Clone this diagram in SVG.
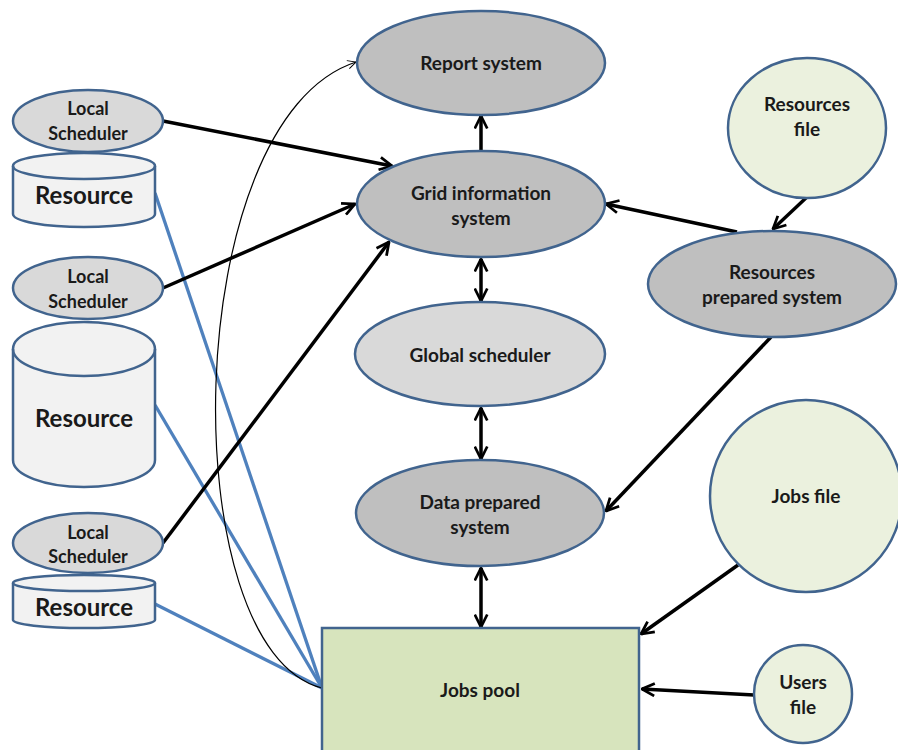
<svg xmlns="http://www.w3.org/2000/svg" width="898" height="750" viewBox="0 0 898 750">
<style>
text{font-family:Lato,"Open Sans","Liberation Sans",sans-serif;font-weight:bold;fill:#1a1a1a;text-anchor:middle}
.n{stroke:#41648e;stroke-width:2.5}
.g{fill:#bfbfbf}
.lg{fill:#d9d9d9}
.cy{fill:#f2f2f2}
.f{fill:#ebf1de}
.t{font-size:19px}
.s{font-size:18px}
.r{font-size:24px}
.a{stroke:#000;stroke-width:3.5;fill:none}
.b{stroke:#4f81bd;stroke-width:3.3;fill:none}
</style>
<defs>
<marker id="ah" viewBox="0 0 12 12" refX="11" refY="6" markerWidth="15" markerHeight="15" markerUnits="userSpaceOnUse" orient="auto-start-reverse">
<path d="M1,1 L11,6 L1,11" fill="none" stroke="#000" stroke-width="2.2"/>
</marker>
<marker id="ahs" viewBox="0 0 12 12" refX="11" refY="6" markerWidth="10" markerHeight="10" markerUnits="userSpaceOnUse" orient="auto">
<path d="M1,1 L11,6 L1,11" fill="none" stroke="#000" stroke-width="1.2"/>
</marker>
</defs>
<g id="connectors">
<path class="b" d="M322,688 L155,193"/>
<path class="b" d="M322,688 L155,405"/>
<path class="b" d="M322,688 L155,604"/>
<path d="M322,688 C172,650 178,120 356,62" fill="none" stroke="#000" stroke-width="1.2" marker-end="url(#ahs)"/>
<path class="a" d="M163,121 L392,166" marker-end="url(#ah)"/>
<path class="a" d="M163,288 L355,204" marker-end="url(#ah)"/>
<path class="a" d="M163,543 L389,242" marker-end="url(#ah)"/>
<path class="a" d="M481,151 L481,116" marker-end="url(#ah)"/>
<path class="a" d="M481,259 L481,301" marker-start="url(#ah)" marker-end="url(#ah)"/>
<path class="a" d="M481,408 L481,459" marker-start="url(#ah)" marker-end="url(#ah)"/>
<path class="a" d="M481,568 L481,627" marker-start="url(#ah)" marker-end="url(#ah)"/>
<path class="a" d="M737,232 L606,204" marker-end="url(#ah)"/>
<path class="a" d="M807,197 L773,229" marker-end="url(#ah)"/>
<path class="a" d="M771,337 L606,511" marker-end="url(#ah)"/>
<path class="a" d="M738,565 L641,634" marker-end="url(#ah)"/>
<path class="a" d="M754,695 L642,689" marker-end="url(#ah)"/>
</g>
<g id="report-system"><ellipse class="n g" cx="481" cy="63" rx="124" ry="52"/><text class="t" x="481" y="70">Report system</text></g>
<g id="grid-information-system"><ellipse class="n g" cx="481" cy="204" rx="124" ry="53"/><text class="t" x="481" y="200">Grid information</text><text class="t" x="481" y="225">system</text></g>
<g id="global-scheduler"><ellipse class="n lg" cx="480" cy="354" rx="125" ry="52"/><text class="t" x="480" y="362">Global scheduler</text></g>
<g id="data-prepared-system"><ellipse class="n g" cx="480" cy="513" rx="124" ry="53"/><text class="t" x="480" y="509">Data prepared</text><text class="t" x="480" y="534">system</text></g>
<g id="jobs-pool"><rect class="n" fill="#d7e4bd" x="322" y="628" width="317" height="140"/><text class="t" x="480" y="697">Jobs pool</text></g>
<g id="local-scheduler-1"><ellipse class="n lg" cx="88" cy="121" rx="75" ry="31"/><text class="s" x="88" y="115">Local</text><text class="s" x="88" y="140">Scheduler</text></g>
<g id="resource-1"><path class="n cy" d="M13,166 A71,13 0 0 1 155,166 L155,214 A71,13 0 0 1 13,214 Z"/><path class="n" fill="none" d="M13,166 A71,13 0 0 0 155,166"/><text class="r" x="84" y="204">Resource</text></g>
<g id="local-scheduler-2"><ellipse class="n lg" cx="88" cy="288" rx="75" ry="31"/><text class="s" x="88" y="283">Local</text><text class="s" x="88" y="308">Scheduler</text></g>
<g id="resource-2"><path class="n cy" d="M13,349 A71,27 0 0 1 155,349 L155,460 A71,27 0 0 1 13,460 Z"/><path class="n" fill="none" d="M13,349 A71,27 0 0 0 155,349"/><text class="r" x="84" y="427">Resource</text></g>
<g id="local-scheduler-3"><ellipse class="n lg" cx="88" cy="543" rx="75" ry="30"/><text class="s" x="88" y="539">Local</text><text class="s" x="88" y="563">Scheduler</text></g>
<g id="resource-3"><path class="n cy" d="M13,583 A71,8 0 0 1 155,583 L155,620 A71,8 0 0 1 13,620 Z"/><path class="n" fill="none" d="M13,583 A71,8 0 0 0 155,583"/><text class="r" x="84" y="616">Resource</text></g>
<g id="resources-file"><ellipse class="n f" cx="807" cy="128" rx="79" ry="70"/><text class="t" x="807" y="111">Resources</text><text class="t" x="807" y="136">file</text></g>
<g id="resources-prepared-system"><ellipse class="n g" cx="772" cy="284" rx="124" ry="53"/><text class="t" x="772" y="279">Resources</text><text class="t" x="772" y="304">prepared system</text></g>
<g id="jobs-file"><ellipse class="n f" cx="806" cy="496" rx="96" ry="96"/><text class="t" x="806" y="503">Jobs file</text></g>
<g id="users-file"><ellipse class="n f" cx="803" cy="694" rx="49" ry="49"/><text class="t" x="803" y="689">Users</text><text class="t" x="803" y="714">file</text></g>
</svg>
